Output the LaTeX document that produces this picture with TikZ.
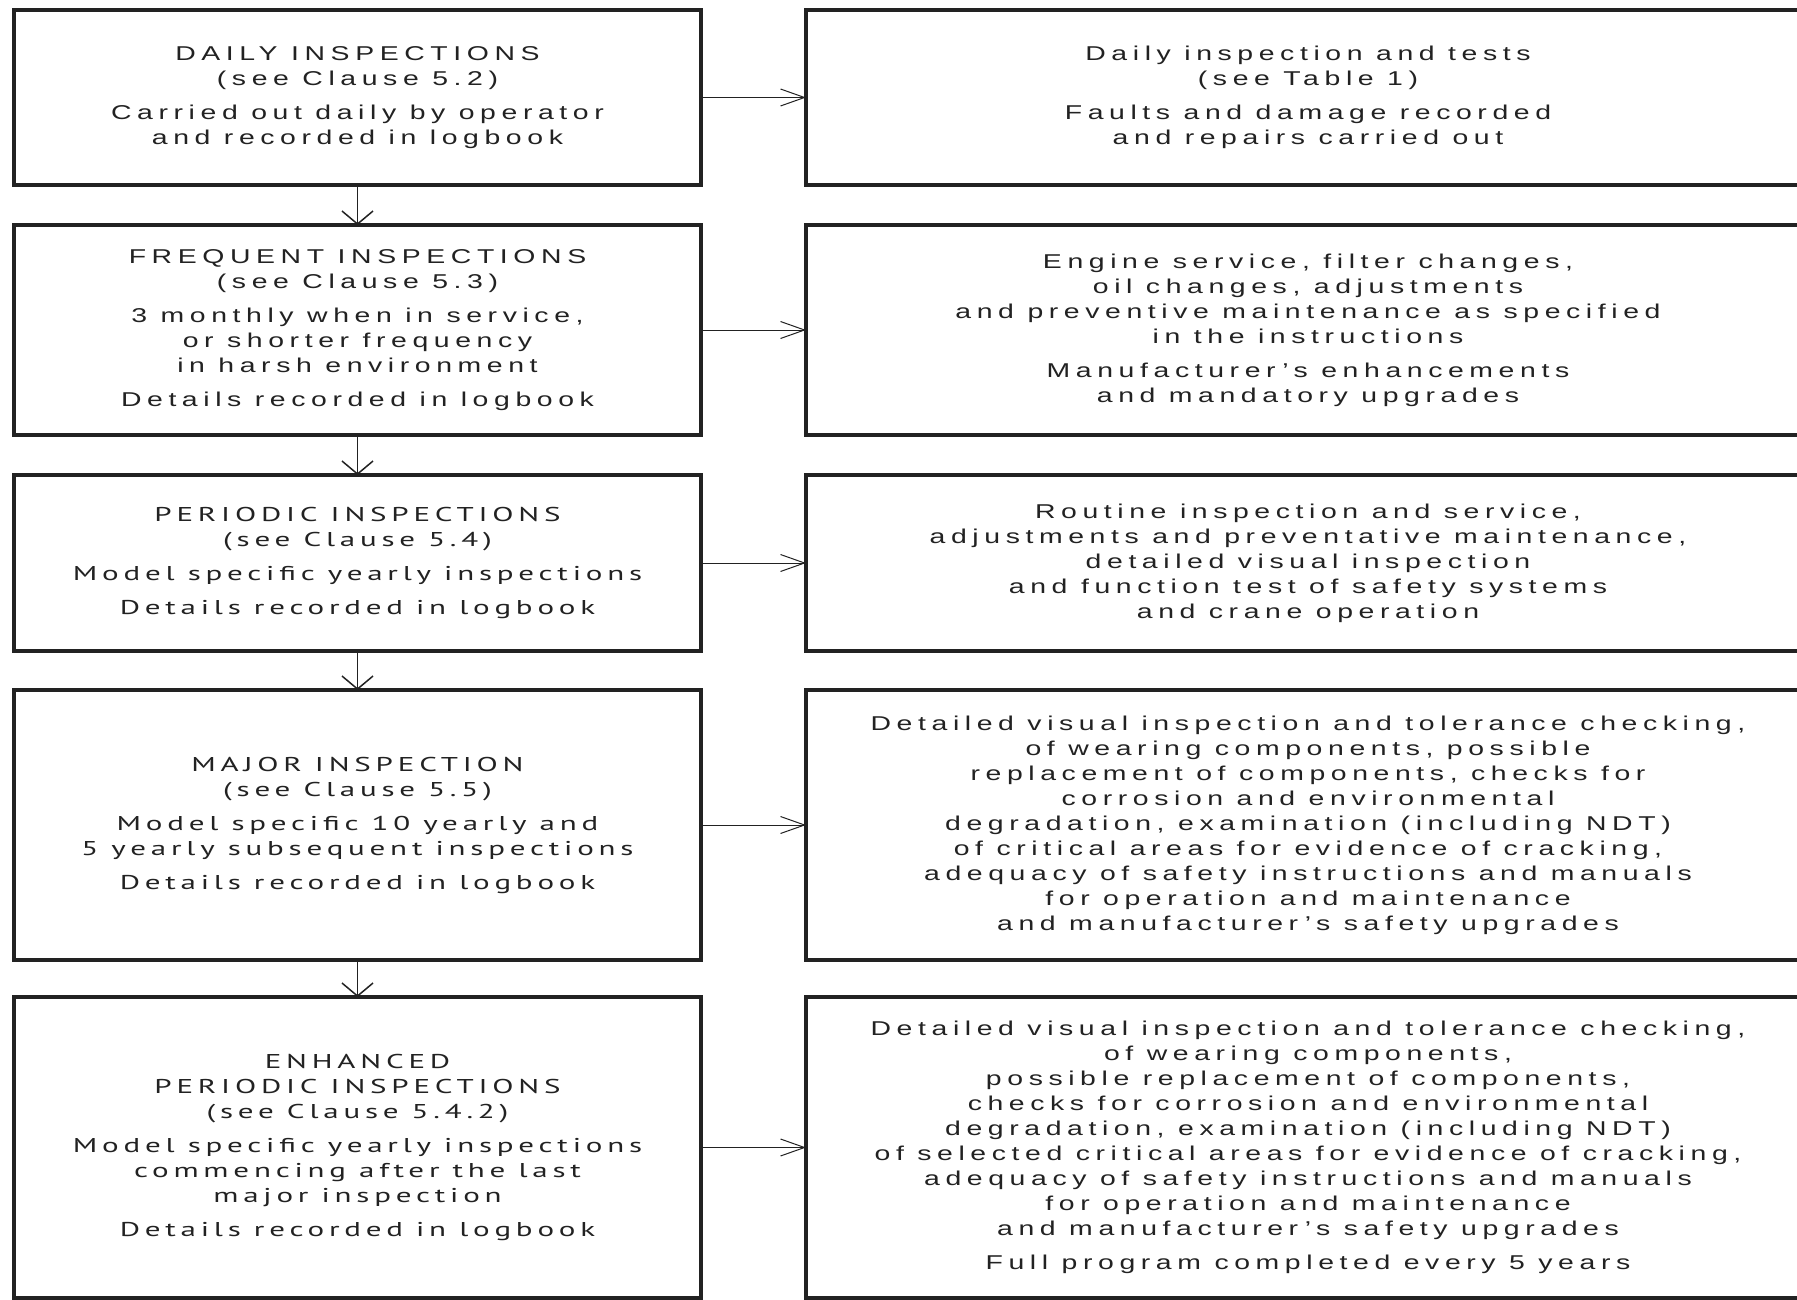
\documentclass[tikz,border=0pt]{standalone}
\usepackage{fontspec}
\setmainfont{Liberation Sans}
\newfontfamily\arisp[LetterSpace=28,FakeStretch=1.42]{Liberation Sans}
\newfontfamily\myrsp[LetterSpace=24,FakeStretch=1.55]{PT Sans}
\usetikzlibrary{arrows.meta}
\definecolor{ink}{HTML}{222222}
\begin{document}
\begin{tikzpicture}[x=1pt,y=-1pt,
  box/.style={draw=ink, line width=3.5pt, rectangle, inner sep=0pt, outer sep=0pt,
              align=center, text=ink},
  lbox/.style={box, minimum width=687pt},
  rbox/.style={box, minimum width=1004pt},
  fa/.style={font=\arisp\fontsize{20}{25}\selectfont},
  fm/.style={font=\myrsp\fontsize{20}{25}\selectfont},
  harr/.style={draw=ink, line width=1pt, -{Straight Barb[length=24pt,width=17pt]}},
  varr/.style={draw=ink, line width=1.5pt, -{Straight Barb[length=13pt,width=31pt]}}
]
\useasboundingbox (0,0) rectangle (1797,1300);
\fill[white] (0,0) rectangle (1797,1300);

% left column
\node[lbox, fa, minimum height=175pt] (L1) at (357.5,97.5)
  {DAILY INSPECTIONS\\(see Clause 5.2)\\[9pt]Carried out daily by operator\\and recorded in logbook};
\node[lbox, fa, minimum height=210pt] (L2) at (357.5,330)
  {FREQUENT INSPECTIONS\\(see Clause 5.3)\\[9pt]3 monthly when in service,\\or shorter frequency\\in harsh environment\\[9pt]Details recorded in logbook};
\node[lbox, fm, minimum height=176pt] (L3) at (357.5,563)
  {PERIODIC INSPECTIONS\\(see Clause 5.4)\\[9pt]Model specific yearly inspections\\[9pt]Details recorded in logbook};
\node[lbox, fm, minimum height=270pt] (L4) at (357.5,825)
  {MAJOR INSPECTION\\(see Clause 5.5)\\[9pt]Model specific 10 yearly and\\5 yearly subsequent inspections\\[9pt]Details recorded in logbook};
\node[lbox, fm, minimum height=301pt] (L5) at (357.5,1147.5)
  {ENHANCED\\PERIODIC INSPECTIONS\\(see Clause 5.4.2)\\[9pt]Model specific yearly inspections\\commencing after the last\\major inspection\\[9pt]Details recorded in logbook};

% right column
\node[rbox, fa, minimum height=175pt] (R1) at (1308,97.5)
  {Daily inspection and tests\\(see Table 1)\\[9pt]Faults and damage recorded\\and repairs carried out};
\node[rbox, fa, minimum height=210pt] (R2) at (1308,330)
  {Engine service, filter changes,\\oil changes, adjustments\\and preventive maintenance as specified\\in the instructions\\[9pt]Manufacturer’s enhancements\\and mandatory upgrades};
\node[rbox, fa, minimum height=176pt] (R3) at (1308,563)
  {Routine inspection and service,\\adjustments and preventative maintenance,\\detailed visual inspection\\and function test of safety systems\\and crane operation};
\node[rbox, fa, minimum height=270pt] (R4) at (1308,825)
  {Detailed visual inspection and tolerance checking,\\of wearing components, possible\\replacement of components, checks for\\corrosion and environmental\\degradation, examination (including NDT)\\of critical areas for evidence of cracking,\\adequacy of safety instructions and manuals\\for operation and maintenance\\and manufacturer’s safety upgrades};
\node[rbox, fa, minimum height=301pt] (R5) at (1308,1147.5)
  {Detailed visual inspection and tolerance checking,\\of wearing components,\\possible replacement of components,\\checks for corrosion and environmental\\degradation, examination (including NDT)\\of selected critical areas for evidence of cracking,\\adequacy of safety instructions and manuals\\for operation and maintenance\\and manufacturer’s safety upgrades\\[9pt]Full program completed every 5 years};

% connectors
\foreach \i in {1,...,5}{
  \draw[harr] (L\i.east) -- (R\i.west);
}
\draw[varr] (L1.south) -- (L2.north);
\draw[varr] (L2.south) -- (L3.north);
\draw[varr] (L3.south) -- (L4.north);
\draw[varr] (L4.south) -- (L5.north);
\end{tikzpicture}
\end{document}
